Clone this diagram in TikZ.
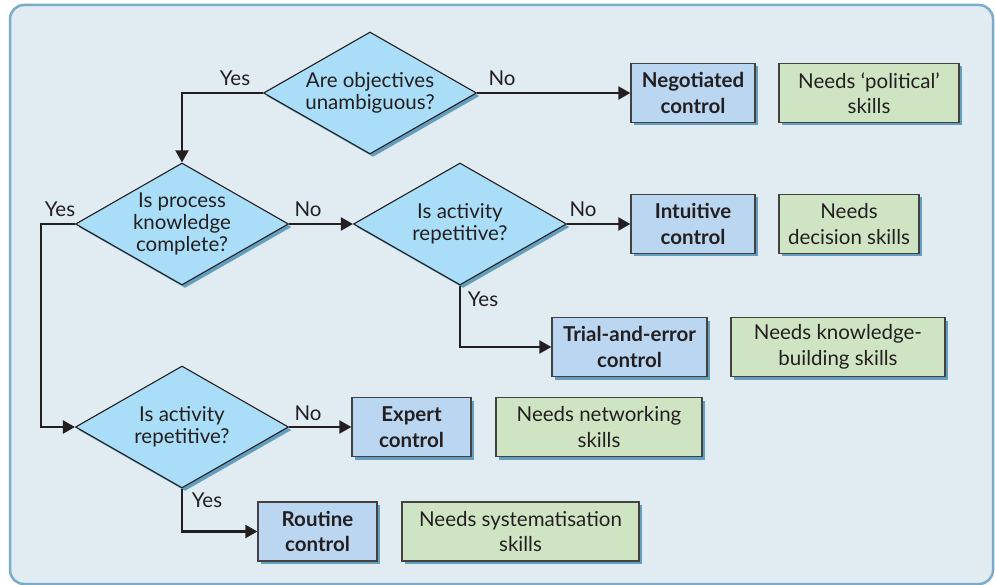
\documentclass[tikz,border=0pt]{standalone}
\usepackage{fontspec}
\setmainfont{Lato}
\usetikzlibrary{arrows.meta,positioning,shapes.geometric,shadows}
\definecolor{bgpanel}{RGB}{224,235,242}
\definecolor{panelline}{RGB}{122,172,200}
\definecolor{shadowblue}{RGB}{100,158,190}
\definecolor{decfill}{RGB}{170,222,248}
\definecolor{ctrlfill}{RGB}{186,214,240}
\definecolor{skillfill}{RGB}{207,228,195}
\definecolor{ink}{RGB}{35,31,32}

\begin{document}
\begin{tikzpicture}[x=1pt, y=-1pt,
  font=\fontsize{20.5}{22}\selectfont, text=ink,
  sh/.style={general shadow={fill=shadowblue, shadow xshift=3pt, shadow yshift=-3pt}},
  dec/.style={diamond, draw=ink, line width=1.1pt, fill=decfill, sh, align=center, inner sep=-6pt, aspect=1.75, minimum width=213pt, minimum height=122pt},
  box/.style={rectangle, draw=ink!85, line width=1.3pt, sh, align=center, inner sep=2pt, minimum height=59pt, font=\fontsize{20.5}{25.5}\selectfont},
  ctrl/.style={box, fill=ctrlfill, font=\fontsize{20.5}{25.5}\selectfont\bfseries},
  skill/.style={box, fill=skillfill},
  lab/.style={inner sep=0pt},
  arr/.style={-{Triangle[length=12pt, width=13pt]}, line width=2.2pt, draw=ink}]
% panel
\useasboundingbox (0,0) rectangle (995,585);
\path[fill=bgpanel, draw=panelline, line width=2.5pt, rounded corners=14pt] (10,5) rectangle (993,584);
% decisions
\node[dec] (qobj)  at (370,93)  {Are objectives\\unambiguous?};
\node[dec] (qproc) at (182,224) {Is process\\knowledge\\complete?};
\node[dec] (qrep)  at (460,224) {Is activity\\repetitive?};
\node[dec] (qrep2) at (182,427) {Is activity\\repetitive?};
% controls
\node[ctrl, minimum width=124pt] (negot)  at (693,93)    {Negotiated\\control};
\node[ctrl, minimum width=124pt] (intuit) at (693,224)   {Intuitive\\control};
\node[ctrl, minimum width=155pt] (trial)  at (629.5,347) {Trial-and-error\\control};
\node[ctrl, minimum width=119pt] (expert) at (411.5,427) {Expert\\control};
\node[ctrl, minimum width=119pt] (routine) at (317.5,531.5) {Routine\\control};
% skills
\node[skill, minimum width=180pt] (spol)  at (869,93)    {Needs ‘political’\\skills};
\node[skill, minimum width=140pt] (sdec)  at (849,224)   {Needs\\decision skills};
\node[skill, minimum width=214pt] (sknow) at (838,347)   {Needs knowledge-\\building skills};
\node[skill, minimum width=206pt] (snet)  at (599,427)   {Needs networking\\skills};
\node[skill, minimum width=237pt] (ssys)  at (520.5,531.5) {Needs systematisation\\skills};
% connectors
\coordinate (bend) at (41,224);
\draw[arr] (qobj.west) -| (qproc.north);
\draw[arr] (qobj.east) -- (negot.west);
\draw[arr] (qproc.east) -- (qrep.west);
\draw[arr] (qproc.west) -- (bend) |- (qrep2.west);
\draw[arr] (qrep.east) -- (intuit.west);
\draw[arr] (qrep.south) |- (trial.west);
\draw[arr] (qrep2.east) -- (expert.west);
\draw[arr] (qrep2.south) |- (routine.west);
% answers
\node[lab] (yobj)  at (235,78)  {Yes};
\node[lab] (nobj)  at (502,78)  {No};
\node[lab] (yproc) at (60,209)  {Yes};
\node[lab] (nproc) at (308,209) {No};
\node[lab] (nrep)  at (583,209) {No};
\node[lab] (yrep)  at (483,299) {Yes};
\node[lab] (nrep2) at (308,413) {No};
\node[lab] (yrep2) at (207,500) {Yes};
\end{tikzpicture}
\end{document}
